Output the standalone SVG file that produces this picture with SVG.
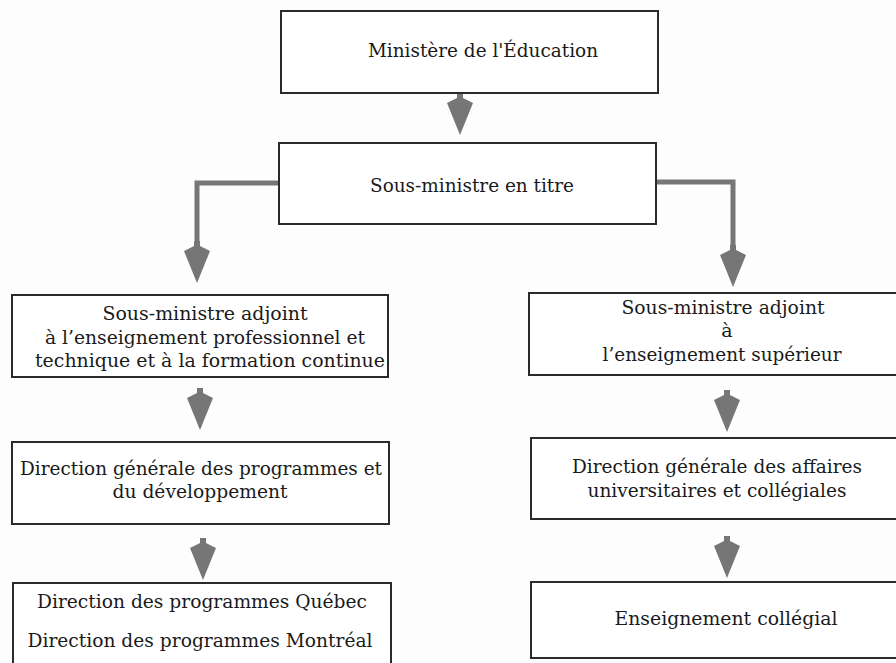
<svg xmlns="http://www.w3.org/2000/svg" xmlns:xlink="http://www.w3.org/1999/xlink" width="896" height="663" viewBox="0 0 896 663">
<style>
.box{fill:#ffffff;stroke:#2a2a2a;stroke-width:2}
.t{font-family:'DejaVu Serif','Liberation Serif','Noto Serif',serif;font-size:19px;fill:#1a1a1a;text-anchor:middle}
.line{fill:none;stroke:#767676;stroke-width:5}
.head{fill:#767676}
</style>
<defs>
<polygon id="arr" class="head" points="-3,-42 3,-42 3,-37 13,-32 0,0 -13,-32 -3,-37"/>
</defs>
<rect width="896" height="663" fill="#fdfdfd"/>
<g id="connectors">
<use xlink:href="#arr" x="460" y="135"/>
<path class="line" d="M279,183 H197 V250"/>
<use xlink:href="#arr" x="197" y="283"/>
<path class="line" d="M657,182 H733 V254"/>
<use xlink:href="#arr" x="733" y="287"/>
<use xlink:href="#arr" x="200" y="430"/>
<use xlink:href="#arr" x="203" y="580"/>
<use xlink:href="#arr" x="727" y="432"/>
<use xlink:href="#arr" x="727" y="578"/>
</g>
<g id="n1">
<rect class="box" x="281" y="11" width="377" height="82"/>
<text class="t" x="483" y="57" textLength="230" lengthAdjust="spacingAndGlyphs">Ministère de l'Éducation</text>
</g>
<g id="n2">
<rect class="box" x="279" y="143" width="377" height="81"/>
<text class="t" x="472" y="192" textLength="204" lengthAdjust="spacingAndGlyphs">Sous-ministre en titre</text>
</g>
<g id="n3">
<rect class="box" x="12" y="295" width="376" height="82"/>
<text class="t" x="205" y="320" textLength="205" lengthAdjust="spacingAndGlyphs">Sous-ministre adjoint</text>
<text class="t" x="205" y="344" textLength="320" lengthAdjust="spacingAndGlyphs">à l’enseignement professionnel et</text>
<text class="t" x="210" y="367" textLength="350" lengthAdjust="spacingAndGlyphs">technique et à la formation continue</text>
</g>
<g id="n4">
<rect class="box" x="529" y="293" width="390" height="82"/>
<text class="t" x="723" y="314" textLength="203" lengthAdjust="spacingAndGlyphs">Sous-ministre adjoint</text>
<text class="t" x="727" y="337">à</text>
<text class="t" x="722" y="361" textLength="239" lengthAdjust="spacingAndGlyphs">l’enseignement supérieur</text>
</g>
<g id="n5">
<rect class="box" x="12" y="442" width="377" height="82"/>
<text class="t" x="201" y="475" textLength="362" lengthAdjust="spacingAndGlyphs">Direction générale des programmes et</text>
<text class="t" x="200" y="498" textLength="175" lengthAdjust="spacingAndGlyphs">du développement</text>
</g>
<g id="n6">
<rect class="box" x="13" y="583" width="378" height="84"/>
<text class="t" x="202" y="608" textLength="330" lengthAdjust="spacingAndGlyphs">Direction des programmes Québec</text>
<text class="t" x="200" y="647" textLength="345" lengthAdjust="spacingAndGlyphs">Direction des programmes Montréal</text>
</g>
<g id="n7">
<rect class="box" x="531" y="438" width="390" height="81"/>
<text class="t" x="717" y="473" textLength="290" lengthAdjust="spacingAndGlyphs">Direction générale des affaires</text>
<text class="t" x="717" y="497" textLength="259" lengthAdjust="spacingAndGlyphs">universitaires et collégiales</text>
</g>
<g id="n8">
<rect class="box" x="531" y="582" width="390" height="76"/>
<text class="t" x="726" y="625" textLength="223" lengthAdjust="spacingAndGlyphs">Enseignement collégial</text>
</g>
</svg>
